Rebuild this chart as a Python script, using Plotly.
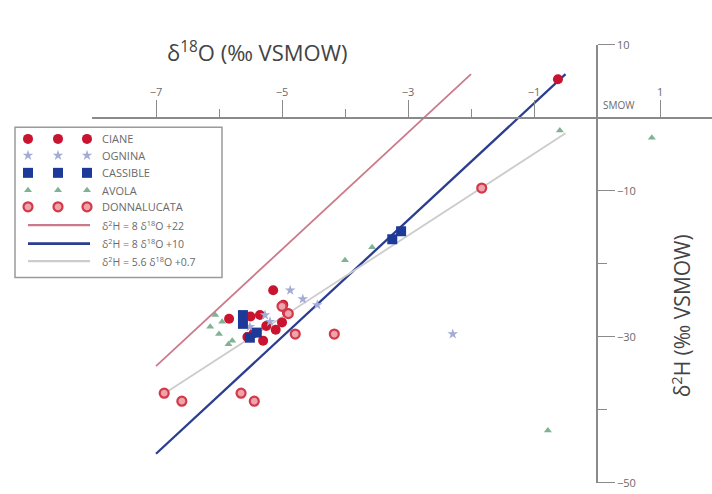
import numpy as np
import plotly.graph_objects as go

# ---- isotope data (δ18O, δ2H in ‰ VSMOW) ----
ciane_d18o = [-0.62, -5.14, -5.84, -4.98, -4.92, -5.50, -5.35, -5.45, -5.30, -5.25, -5.10, -5.00, -5.55]
ciane_d2h = [5.3, -23.6, -27.5, -25.6, -26.7, -27.2, -27.0, -29.5, -30.5, -28.5, -29.0, -28.0, -30.0]

ognina_d18o = [-4.87, -4.67, -4.44, -2.29, -5.27, -5.19, -5.51]
ognina_d2h = [-23.6, -24.8, -25.6, -29.6, -27.0, -27.9, -28.6]

cassible_d18o = [-3.25, -3.11, -5.62, -5.51, -5.62, -5.40]
cassible_d2h = [-16.6, -15.5, -27.0, -30.1, -28.2, -29.4]

avola_d18o = [-0.59, 0.87, -0.78, -4.00, -3.57, -6.06, -6.14, -5.95, -5.79, -5.85, -6.00]
avola_d2h = [-1.7, -2.7, -42.8, -19.5, -17.7, -27.0, -28.6, -27.9, -30.5, -31.0, -29.6]

donna_d18o = [-1.83, -4.17, -4.79, -5.00, -4.90, -6.87, -6.59, -5.65, -5.44]
donna_d2h = [-9.6, -29.6, -29.6, -25.8, -26.8, -37.7, -38.8, -37.7, -38.8]

# reference lines: slope, intercept, δ18O extent
line_slopes = [8.0, 8.0, 5.6]
line_intercepts = [22.0, 10.0, 0.7]
line_x_start = [-7.0, -7.0, -6.8]
line_x_end = [-2.0, -0.5, -0.5]
line_names = ["δ<sup>2</sup>H = 8 δ<sup>18</sup>O +22",
              "δ<sup>2</sup>H = 8 δ<sup>18</sup>O +10",
              "δ<sup>2</sup>H = 5.6 δ<sup>18</sup>O +0.7"]

x_tick_vals = [-7, -5, -3, -1, 1]
x_minor_vals = [-6, -4, -2]
y_tick_vals = [10, -10, -30, -50]
y_minor_vals = [-20, -40]

# ---- styles ----
FONT = "Open Sans, Liberation Sans, Arial, sans-serif"
AXIS_GREY = "#8a8a8a"
TEXT_GREY = "#6a6a6a"
line_colors = ["#cc7a8a", "#2b3d8f", "#cccccc"]
line_widths = [1.8, 2.3, 1.8]

series = [
    ("CIANE", ciane_d18o, ciane_d2h,
     dict(symbol="circle", size=10, color="#c8142f", line=dict(width=0))),
    ("OGNINA", ognina_d18o, ognina_d2h,
     dict(symbol="star", size=8, color="#a4acd6", line=dict(width=0))),
    ("CASSIBLE", cassible_d18o, cassible_d2h,
     dict(symbol="square", size=10, color="#1e3a98", line=dict(width=0))),
    ("AVOLA", avola_d18o, avola_d2h,
     dict(symbol="triangle-up", size=7, color="#7fb394", line=dict(width=0))),
    ("DONNALUCATA", donna_d18o, donna_d2h,
     dict(symbol="circle", size=9, color="#eea3ad", line=dict(width=2.2, color="#d23a4a"))),
]

W, H = 712, 494
# plot frame in pixels
X_LEFT_PX, X_RIGHT_PX = 92, 712
Y_TOP_PX, Y_BOT_PX = 38, 490
x_range = [-8.016, 1.825]
y_range = [-50.02, 10.02]

fig = go.Figure()

# reference lines
for k in range(len(line_slopes)):
    xs = np.array([line_x_start[k], line_x_end[k]])
    ys = line_slopes[k] * xs + line_intercepts[k]
    fig.add_trace(go.Scatter(x=xs, y=ys, mode="lines",
                             line=dict(color=line_colors[k], width=line_widths[k]),
                             showlegend=False, hoverinfo="skip"))

# sample points
for name, xs, ys, mk in series:
    fig.add_trace(go.Scatter(x=xs, y=ys, mode="markers", name=name,
                             marker=mk, showlegend=False))

# ---- hand-built legend on an overlay pixel-space axis pair ----
legend_rows_y = [135, 152, 170, 188, 205, 224, 243, 261]
legend_marker_x = [28, 58, 87]
legend_line_x = [28, 90]
legend_text_x = 100

for i, (name, _, _, mk) in enumerate(series):
    fig.add_trace(go.Scatter(x=legend_marker_x, y=[legend_rows_y[i]] * 3,
                             mode="markers", marker=mk, xaxis="x2", yaxis="y2",
                             showlegend=False, hoverinfo="skip"))
    fig.add_annotation(x=legend_text_x, y=legend_rows_y[i], xref="x2", yref="y2",
                       text=name, showarrow=False, xanchor="left", yanchor="middle",
                       font=dict(family=FONT, size=11, color=TEXT_GREY))
for k in range(len(line_slopes)):
    yy = legend_rows_y[len(series) + k]
    fig.add_trace(go.Scatter(x=legend_line_x, y=[yy, yy], mode="lines",
                             line=dict(color=line_colors[k], width=line_widths[k] + 0.4),
                             xaxis="x2", yaxis="y2", showlegend=False, hoverinfo="skip"))
    fig.add_annotation(x=legend_text_x, y=yy, xref="x2", yref="y2",
                       text=line_names[k], showarrow=False, xanchor="left", yanchor="middle",
                       font=dict(family=FONT, size=10.5, color=TEXT_GREY))

fig.add_shape(type="rect", xref="x2", yref="y2", x0=15, x1=222, y0=123, y1=278,
              line=dict(color="#9a9a9a", width=1.5), fillcolor="rgba(0,0,0,0)")

# axis positions: axes cross at the SMOW origin
y_frac = lambda v: 1 - v / H
y0_px = Y_BOT_PX + (Y_TOP_PX - Y_BOT_PX) * (0 - y_range[0]) / (y_range[1] - y_range[0])
x0_px = X_LEFT_PX + (X_RIGHT_PX - X_LEFT_PX) * (0 - x_range[0]) / (x_range[1] - x_range[0])

fig.update_layout(
    width=W, height=H,
    margin=dict(l=0, r=0, t=0, b=0),
    paper_bgcolor="white", plot_bgcolor="rgba(0,0,0,0)",
    font=dict(family=FONT, color=TEXT_GREY),
    showlegend=False,
    xaxis=dict(
        domain=[X_LEFT_PX / W, X_RIGHT_PX / W], range=x_range,
        anchor="free", position=y_frac(y0_px), side="top",
        showline=True, linecolor=AXIS_GREY, linewidth=1.6,
        showgrid=False, zeroline=False,
        tickmode="array", tickvals=x_tick_vals, ticklabeloverflow="allow",
        ticks="outside", ticklen=17, tickwidth=1.4, tickcolor=AXIS_GREY,
        tickfont=dict(family=FONT, size=11, color=TEXT_GREY),
        minor=dict(tickmode="array", tickvals=x_minor_vals, ticks="outside",
                   ticklen=8, tickwidth=1.2, tickcolor=AXIS_GREY),
    ),
    yaxis=dict(
        domain=[y_frac(Y_BOT_PX), y_frac(Y_TOP_PX)], range=y_range,
        anchor="free", position=x0_px / W, side="right",
        showline=True, linecolor=AXIS_GREY, linewidth=1.6,
        showgrid=False, zeroline=False,
        tickmode="array", tickvals=y_tick_vals, ticklabeloverflow="allow",
        ticks="outside", ticklen=17, tickwidth=1.4, tickcolor=AXIS_GREY,
        tickfont=dict(family=FONT, size=11, color=TEXT_GREY),
        minor=dict(tickmode="array", tickvals=y_minor_vals, ticks="outside",
                   ticklen=9, tickwidth=1.2, tickcolor=AXIS_GREY),
    ),
    xaxis2=dict(domain=[0, 1], range=[0, W], anchor="y2", visible=False, fixedrange=True),
    yaxis2=dict(domain=[0, 1], range=[H, 0], anchor="x2", visible=False, fixedrange=True),
)

# axis titles and origin label
fig.add_annotation(x=257 / W, y=y_frac(45), xref="paper", yref="paper",
                   text="δ<sup>18</sup>O (‰ VSMOW)", showarrow=False,
                   xanchor="center", yanchor="middle",
                   font=dict(family=FONT, size=22, color="#444444"))
fig.add_annotation(x=681 / W, y=y_frac(318), xref="paper", yref="paper",
                   text="δ<sup>2</sup>H (‰ VSMOW)", showarrow=False, textangle=-90,
                   xanchor="center", yanchor="middle",
                   font=dict(family=FONT, size=21, color="#444444"))
fig.add_annotation(x=0, y=0, xref="x", yref="y", text="SMOW", showarrow=False,
                   xanchor="left", yanchor="bottom", xshift=4, yshift=4,
                   font=dict(family=FONT, size=10, color=TEXT_GREY))

fig.write_html("out.html")
